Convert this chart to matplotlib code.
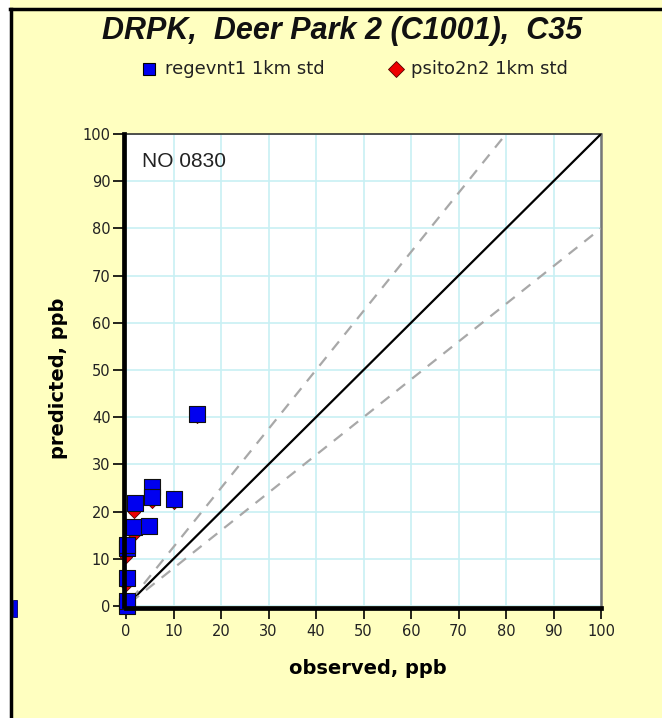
import numpy as np
import matplotlib.pyplot as plt
import matplotlib.patches as patches
from matplotlib.lines import Line2D

plt.rcParams['font.family'] = ['DejaVu Sans']

# observed / predicted, ppb
reg_obs = [0.2, 0.2, 0.2, 0.2, 0.2, 1.8, 1.6, 4.8, 5.5, 5.5, 10.2, 15.0]
reg_pred = [0.0, 1.0, 5.9, 12.2, 13.0, 21.9, 16.8, 17.0, 25.2, 23.1, 22.7, 40.6]
psi_obs = [0.0, 0.0, 0.0, 1.6, 1.6, 4.8, 5.5, 5.5, 10.2, 15.0]
psi_pred = [0.0, 4.5, 10.3, 15.0, 20.0, 16.5, 22.0, 24.0, 21.8, 40.0]
ticks = list(range(0, 101, 10))

W, H = 662, 718
bg = '#FFFFC0'
fig = plt.figure(figsize=(W / 100, H / 100), dpi=100, facecolor=bg)


def fx(px):
    return px / W


def fy(py):
    return 1 - py / H


# page frame bits
fig.add_artist(patches.Rectangle((0, 0), fx(10), 1, transform=fig.transFigure,
                                 facecolor='white', edgecolor='none'))
fig.add_artist(Line2D([fx(11), fx(11)], [0, fy(9)], transform=fig.transFigure,
                      color='black', lw=2.5))
fig.add_artist(Line2D([fx(10), 1], [fy(9), fy(9)], transform=fig.transFigure,
                      color='black', lw=2.5))
fig.add_artist(patches.Rectangle((fx(13), fy(617)), fx(4), 17 / H,
                                 transform=fig.transFigure, facecolor='#0000EE',
                                 edgecolor='#000066', lw=0.6))

ax = fig.add_axes([fx(126), fy(606), fx(601) - fx(126), fy(134) - fy(606)])
ax.set_facecolor('white')

ax.set_xlim(0, 100)
ax.set_ylim(0, 100)
ax.set_xticks(ticks)
ax.set_yticks(ticks)
ax.grid(color='#C8F0F4', lw=1.2)
ax.set_axisbelow(True)

ax.plot([0, 100], [0, 100], color='black', lw=1.6, zorder=3)
ax.plot([2, 80], [2.5, 100], color='#A8A8A8', lw=1.6, ls=(3, (5, 4)), zorder=3)
ax.plot([2, 100], [1.6, 80], color='#A8A8A8', lw=1.6, ls=(3, (5, 4)), zorder=3)

ax.scatter(psi_obs, psi_pred, marker='D', s=38, color='#EE0000', edgecolor='#550000',
           lw=0.6, zorder=4, clip_on=False)
ax.scatter(reg_obs, reg_pred, marker='s', s=140, color='#0000F0', edgecolor='#111111',
           lw=0.8, zorder=5, clip_on=False)

for side in ['left', 'bottom']:
    ax.spines[side].set_linewidth(3.4)
    ax.spines[side].set_color('black')
    ax.spines[side].set_zorder(6)
    ax.spines[side].set_position(('outward', 1.2))
ax.spines['top'].set_color('#333333')
ax.spines['top'].set_linewidth(1.2)
ax.spines['right'].set_color('#777777')
ax.spines['right'].set_linewidth(1.8)

ax.tick_params(direction='out', length=8, width=1.2, labelsize=10.5, pad=2,
               labelcolor='#222222')
ax.tick_params(axis='x', pad=4)

ax.set_xlabel('observed, ppb', fontsize=14, fontweight='bold', va='center')
ax.xaxis.set_label_coords((368 - 126) / 475, (606 - 668) / 472)
ax.set_ylabel('predicted, ppb', fontsize=14, fontweight='bold', va='center')
ax.yaxis.set_label_coords((59 - 126) / 475, (606 - 378) / 472)

ax.text(3.4, 93.0, 'NO 0830', fontsize=15, ha='left', va='baseline', color='#222222',
        family='Liberation Sans')

fig.text(fx(342), fy(31), 'DRPK,  Deer Park 2 (C1001),  C35', ha='center', va='center',
         fontsize=22, fontweight='bold', style='italic', color='#111111',
         family='Liberation Sans')

fig.add_artist(Line2D([fx(149)], [fy(69)], marker='s', markersize=8.6,
                      color='#0000F0', markeredgecolor='black', markeredgewidth=0.8,
                      transform=fig.transFigure))
fig.text(fx(165), fy(69), 'regevnt1 1km std', ha='left', va='center', fontsize=13,
         color='#222222')
fig.add_artist(Line2D([fx(396)], [fy(69)], marker='D', markersize=8,
                      color='#EE0000', markeredgecolor='#550000', markeredgewidth=0.6,
                      transform=fig.transFigure))
fig.text(fx(411), fy(69), 'psito2n2 1km std', ha='left', va='center', fontsize=13,
         color='#222222')

plt.savefig('out.png', dpi=100, facecolor=bg)
